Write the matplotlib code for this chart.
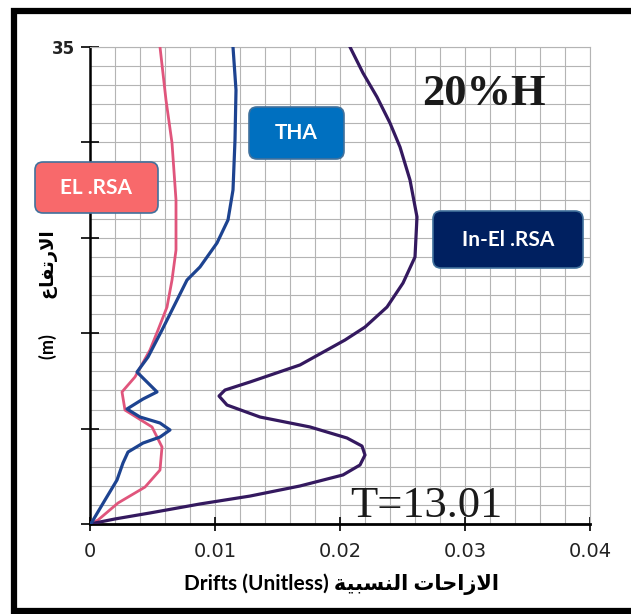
import matplotlib as mpl
mpl.use('Agg')
import matplotlib.pyplot as plt
from matplotlib.patches import FancyBboxPatch
from matplotlib.ticker import MultipleLocator

# storey height (m) vs drift
el_h = [35.0, 31.11, 27.96, 23.77, 20.1, 17.9, 15.92, 14.23, 12.77, 10.79,
        9.69, 8.36, 7.12, 5.65, 3.96, 2.71, 1.54, 0.29, 0.0]
el_d = [0.0056, 0.00608, 0.00656, 0.00688, 0.00688, 0.00656, 0.00616, 0.00544,
        0.0048, 0.0036, 0.00256, 0.0028, 0.00496, 0.00576, 0.0056, 0.0044,
        0.00224, 0.00064, 0.0]

tha_h = [35.0, 31.84, 28.18, 24.51, 22.31, 20.62, 18.86, 17.9, 14.23, 12.25,
         11.15, 10.71, 9.69, 9.17, 8.44, 7.85, 7.41, 6.9, 6.38, 5.94, 5.28,
         4.48, 3.23, 1.76, 0.15, 0.0]
tha_d = [0.01144, 0.01168, 0.0116, 0.01144, 0.01104, 0.01016, 0.0088, 0.00776,
         0.00576, 0.00464, 0.00376, 0.00424, 0.00536, 0.00424, 0.00296, 0.004,
         0.0056, 0.0064, 0.0056, 0.00424, 0.00304, 0.00264, 0.00216, 0.0012,
         0.00016, 0.0]

inel_h = [35.0, 33.09, 31.33, 29.42, 27.66, 25.24, 22.53, 19.59, 17.68, 15.92,
          14.45, 13.5, 11.67, 10.42, 9.83, 9.39, 8.73, 7.85, 7.12, 6.31, 5.72,
          5.06, 4.33, 3.6, 2.79, 2.05, 1.47, 0.81, 0.37, 0.0]
inel_d = [0.0208, 0.02184, 0.02296, 0.024, 0.0248, 0.0256, 0.02616, 0.026,
          0.02504, 0.02376, 0.022, 0.0204, 0.0168, 0.0128, 0.0108, 0.01032,
          0.01096, 0.0136, 0.0176, 0.02056, 0.02176, 0.022, 0.0216, 0.02024,
          0.0168, 0.0128, 0.0088, 0.0048, 0.002, 0.0]

x_ticks = [0, 0.01, 0.02, 0.03, 0.04]
x_tick_labels = ['0', '0.01', '0.02', '0.03', '0.04']
y_ticks = [0, 7, 14, 21, 28, 35]
y_tick_labels = ['', '', '', '', '', '35']

# arabic written in visual order with presentation forms (no shaping in mpl)
xlab = 'Drifts (Unitless) ' + '\ufe94\ufef4\ufe92\ufeb4\ufee8\ufedf\ufe8d \ufe95\ufe8e\ufea3\ufe8d\ufeaf\ufefb\ufe8d'
ylab = '(m)        ' + '\ufec9\ufe8e\ufed4\ufe97\ufead\ufefb\ufe8d'

W, H = 631, 614
fig = plt.figure(figsize=[W/100, H/100], dpi=100)
ax = fig.add_axes([90/W, (H-524)/H, 500/W, 477/H])

ax.plot(el_d, el_h, c='#e0557c', lw=2.0, zorder=3, solid_joinstyle='round')
ax.plot(tha_d, tha_h, c='#1d4390', lw=2.3, zorder=4, solid_joinstyle='round')
ax.plot(inel_d, inel_h, c='#34195f', lw=2.3, zorder=3, solid_joinstyle='round')

ax.set_xlim(0, 0.04)
ax.set_ylim(0, 35)
ax.set_xticks(x_ticks)
ax.set_xticklabels(x_tick_labels, fontsize=14, color='#222222')
ax.set_yticks(y_ticks)
ax.set_yticklabels(y_tick_labels, fontsize=12, fontweight='bold', color='#222222')
ax.xaxis.set_minor_locator(MultipleLocator(0.002))
ax.yaxis.set_minor_locator(MultipleLocator(1.4))
ax.grid(True, which='both', color='#b4b4b4', lw=0.8)
ax.set_axisbelow(True)
ax.tick_params(axis='x', which='major', direction='inout', length=10, width=1.2, pad=8)
ax.tick_params(axis='y', which='major', direction='inout', length=13, width=1.2, pad=4)
ax.tick_params(which='minor', length=0)

for s in ['top', 'right']:
    ax.spines[s].set_color('#b4b4b4')
    ax.spines[s].set_linewidth(0.8)
ax.spines['left'].set_linewidth(1.8)
ax.spines['bottom'].set_linewidth(2.0)

px = fig.dpi_scale_trans
fig.text(341/100, (H-584)/100, xlab, transform=px, ha='center', va='center',
         fontsize=15, fontweight='bold', family=['Lato', 'DejaVu Sans'])
fig.text(48/100, (H-295)/100, ylab, transform=px, ha='center', va='center',
         rotation=90, fontsize=13, fontweight='bold', family=['Lato', 'DejaVu Sans'])

fig.text(422/100, (H-105)/100, '20%H', transform=px, family='Liberation Serif',
         fontweight='bold', fontsize=32, ha='left', va='baseline', color='#1a1a1a')
fig.text(350/100, (H-517)/100, 'T=13.01', transform=px, family='Liberation Serif',
         fontsize=32, ha='left', va='baseline', color='#1a1a1a')

# label boxes, in pixel positions
boxes = [(35, 162, 158, 213, '#f8696b', 'EL .RSA'),
         (249, 107, 344, 159, '#0070c0', 'THA'),
         (433, 211, 583, 268, '#002060', 'In-El .RSA')]
for x0, y0, x1, y1, col, txt in boxes:
    p = FancyBboxPatch((x0/100, (H-y1)/100), (x1-x0)/100, (y1-y0)/100,
                       boxstyle='round,pad=0,rounding_size=0.08', transform=px,
                       fc=col, ec='#41719c', lw=1.2, zorder=10)
    fig.add_artist(p)
    fig.text((x0+x1)/200, (H-(y0+y1)/2)/100, txt, transform=px, ha='center',
             va='center', color='white', fontsize=15, fontweight='bold',
             family='Lato', zorder=11)

# outer frame (left, top, bottom only; right side runs off the picture)
fig.add_artist(plt.Line2D([7.0, 0.14, 0.14, 7.0],
                          [(H-11)/100, (H-11)/100, (H-611)/100, (H-611)/100],
                          transform=px, c='black', lw=4.5, solid_joinstyle='miter'))

plt.savefig('out.png', dpi=100)
plt.close(fig)
